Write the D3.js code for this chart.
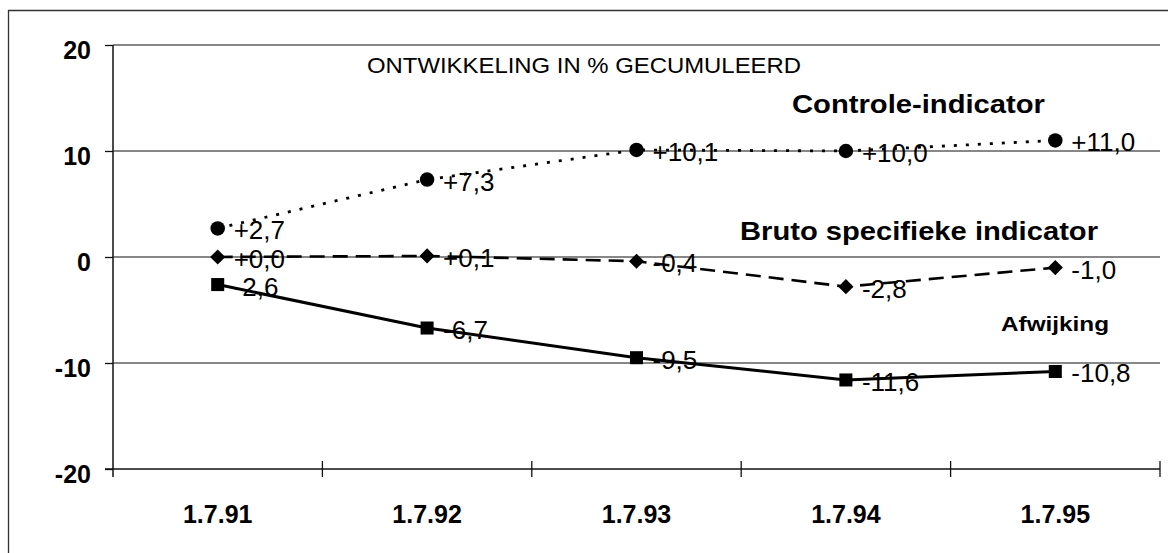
<!DOCTYPE html>
<html>
<head>
<meta charset="utf-8">
<script src="https://cdn.jsdelivr.net/npm/d3@7"></script>
<style>
  html, body { margin: 0; padding: 0; background: #fff; }
  svg { display: block; }
  text { font-family: "Liberation Sans", Arial, sans-serif; fill: #000; }
</style>
</head>
<body>
<svg id="chart" width="1168" height="553"></svg>
<script>
// ---- data ----
const categories = ["1.7.91", "1.7.92", "1.7.93", "1.7.94", "1.7.95"];
const controle   = [2.7, 7.3, 10.1, 10.0, 11.0];
const bruto      = [0.0, 0.1, -0.4, -2.8, -1.0];
const afwijking  = [-2.6, -6.7, -9.5, -11.6, -10.8];
const yTicks     = [-20, -10, 0, 10, 20];
const titleText  = "ONTWIKKELING IN % GECUMULEERD";
const seriesNames = ["Controle-indicator", "Bruto specifieke indicator", "Afwijking"];

// ---- layout ----
const W = 1168, H = 553;
const pLeft = 113, pRight = 1160, pTop = 45, pBottom = 469;

const svg = d3.select("#chart");
const locale = d3.formatLocale({decimal: ",", thousands: ".", grouping: [3], currency: ["", ""], minus: "-"});
const fmtVal = locale.format("+.1f");
const fmtTick = locale.format("d");

const x = d3.scaleBand().domain(categories).range([pLeft, pRight]).padding(0);
const y = d3.scaleLinear().domain([-20, 20]).range([pBottom, pTop]);
const cx = c => x(c) + x.bandwidth() / 2;

// outer frame (top + left)
svg.append("line").attr("x1", 8).attr("x2", W).attr("y1", 10.5).attr("y2", 10.5)
  .attr("stroke", "#333").attr("stroke-width", 1.3);
svg.append("line").attr("x1", 8.5).attr("x2", 8.5).attr("y1", 10).attr("y2", H)
  .attr("stroke", "#333").attr("stroke-width", 1.3);

// gridlines
svg.append("g").selectAll("line").data(yTicks.filter(d => d !== -20)).join("line")
  .attr("x1", pLeft).attr("x2", pRight)
  .attr("y1", d => y(d)).attr("y2", d => y(d))
  .attr("stroke", "#111").attr("stroke-width", 1.2);

// y axis
const yAxis = svg.append("g").attr("transform", `translate(${pLeft},0)`)
  .call(d3.axisLeft(y).tickValues(yTicks).tickSize(8).tickPadding(14).tickFormat(fmtTick));
yAxis.select(".domain").remove();
yAxis.selectAll(".tick line").attr("stroke", "#111").attr("stroke-width", 1.3);
yAxis.selectAll(".tick text")
  .attr("dy", "0.52em")
  .style("font-family", '"Liberation Sans", Arial, sans-serif')
  .style("font-size", "25px").style("font-weight", "bold");
svg.append("line").attr("x1", pLeft).attr("x2", pLeft).attr("y1", pTop).attr("y2", pBottom + 8)
  .attr("stroke", "#111").attr("stroke-width", 1.5);

// x axis
svg.append("line").attr("x1", pLeft - 8).attr("x2", pRight).attr("y1", pBottom).attr("y2", pBottom)
  .attr("stroke", "#111").attr("stroke-width", 1.5);
const boundaries = categories.map(c => x(c) + x.bandwidth());
svg.append("g").selectAll("line").data(boundaries).join("line")
  .attr("x1", d => d).attr("x2", d => d)
  .attr("y1", pBottom - 8).attr("y2", pBottom + 8)
  .attr("stroke", "#111").attr("stroke-width", 1.3);
svg.append("g").selectAll("text").data(categories).join("text")
  .attr("x", d => cx(d)).attr("y", 523)
  .attr("text-anchor", "middle")
  .style("font-size", "25px").style("font-weight", "bold")
  .text(d => d);

// series
const series = [
  {name: seriesNames[0], values: controle, dash: "3,9", width: 2.8, sym: d3.symbolCircle, size: 165, rot: 0},
  {name: seriesNames[1], values: bruto, dash: "15,8", width: 2.6, sym: d3.symbolSquare, size: 115, rot: 45},
  {name: seriesNames[2], values: afwijking, dash: null, width: 3, sym: d3.symbolSquare, size: 170, rot: 0}
];

const lineGen = d3.line().x(d => cx(d.c)).y(d => y(d.v));

series.forEach(s => {
  const pts = categories.map((c, i) => ({c, v: s.values[i]}));
  svg.append("path").datum(pts)
    .attr("d", lineGen).attr("fill", "none")
    .attr("stroke", "#000").attr("stroke-width", s.width)
    .attr("stroke-dasharray", s.dash);
  svg.append("g").selectAll("path").data(pts).join("path")
    .attr("d", d3.symbol().type(s.sym).size(s.size))
    .attr("transform", d => `translate(${cx(d.c)},${y(d.v)}) rotate(${s.rot})`)
    .attr("fill", "#000");
  svg.append("g").selectAll("text").data(pts).join("text")
    .attr("x", d => cx(d.c) + 16).attr("y", d => y(d.v) + 11)
    .style("font-size", "26px")
    .text(d => fmtVal(d.v));
});

// annotations
const ann = [
  {t: titleText, x: 367, y: 73, size: 22, w: "normal", len: 434},
  {t: seriesNames[0], x: 792, y: 113, size: 26, w: "bold", len: 253},
  {t: seriesNames[1], x: 740, y: 240, size: 26, w: "bold", len: 358},
  {t: seriesNames[2], x: 1001, y: 331, size: 21, w: "bold", len: 108}
];
svg.append("g").selectAll("text").data(ann).join("text")
  .attr("x", d => d.x).attr("y", d => d.y)
  .attr("textLength", d => d.len).attr("lengthAdjust", "spacingAndGlyphs")
  .style("font-size", d => d.size + "px").style("font-weight", d => d.w)
  .text(d => d.t);
</script>
</body>
</html>
